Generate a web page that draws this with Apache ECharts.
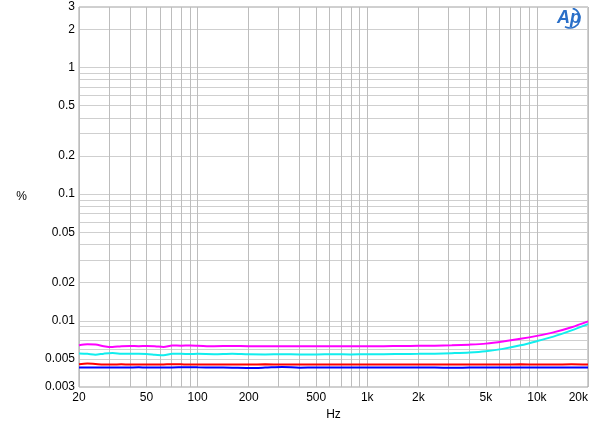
<!DOCTYPE html>
<html>
<head>
<meta charset="utf-8">
<script src="https://cdn.jsdelivr.net/npm/echarts@6/dist/echarts.min.js"></script>
<style>html,body{margin:0;padding:0;background:#fff}#c{width:600px;height:429px}</style>
</head>
<body>
<div id="c"></div>
<script>
const freqs = [20,22.4,25,28,31.5,35.5,40,45,50,56,63,71,80,90,100,125,160,200,250,315,400,500,630,800,1000,1250,1600,2000,2500,3150,4000,5000,6300,8000,10000,12500,16000,20000];
const magenta = [0.0064,0.00652,0.0065,0.0063,0.0062,0.0063,0.00632,0.0063,0.00632,0.0063,0.0062,0.00638,0.00636,0.00638,0.00636,0.0063,0.00632,0.0063,0.0063,0.0063,0.00628,0.00628,0.0063,0.00628,0.0063,0.0063,0.00632,0.00634,0.00636,0.0064,0.00648,0.0066,0.00685,0.0072,0.0076,0.0081,0.0089,0.0099];
const cyan = [0.00552,0.00548,0.0054,0.0055,0.00556,0.0055,0.00548,0.00548,0.00546,0.0054,0.00534,0.00548,0.00548,0.00546,0.00548,0.00545,0.0055,0.00543,0.00542,0.00544,0.00542,0.00542,0.00544,0.00542,0.00545,0.00545,0.00547,0.00548,0.0055,0.00555,0.00562,0.00575,0.006,0.0064,0.0069,0.0075,0.0084,0.0094];
const red = [0.00454,0.0046,0.00456,0.00452,0.00452,0.00453,0.00452,0.00452,0.00452,0.00451,0.00452,0.00454,0.00453,0.00452,0.00452,0.00452,0.00452,0.00452,0.00453,0.00452,0.00451,0.00452,0.00452,0.00451,0.00452,0.00452,0.00452,0.00452,0.00452,0.00452,0.00452,0.00452,0.00451,0.00453,0.00452,0.00451,0.00454,0.00452];
const blue = [0.00428,0.00428,0.00428,0.00428,0.00428,0.00427,0.00428,0.00429,0.00428,0.00428,0.00428,0.00428,0.00429,0.0043,0.00429,0.00428,0.00426,0.00424,0.00427,0.00432,0.00426,0.00428,0.00427,0.00428,0.00427,0.00428,0.00428,0.00428,0.00428,0.00425,0.00427,0.00428,0.00427,0.00427,0.00428,0.00427,0.00428,0.00428];

const xGrid = [20,30,40,50,60,70,80,90,100,200,300,400,500,600,700,800,900,1000,2000,3000,4000,5000,6000,7000,8000,9000,10000,20000];
const xLabels = [20,50,100,200,500,1000,2000,5000,10000,20000];
const yGrid = [0.003,0.004,0.005,0.006,0.007,0.008,0.009,0.01,0.02,0.03,0.04,0.05,0.06,0.07,0.08,0.09,0.1,0.2,0.3,0.4,0.5,0.6,0.7,0.8,0.9,1,2,3];
const yLabels = [0.003,0.005,0.01,0.02,0.05,0.1,0.2,0.5,1,2,3];

const font = 'Liberation Sans, Arial, sans-serif';
function mk(name, arr, color) {
  return {
    name: name, type: 'line', showSymbol: false, smooth: 0.3,
    data: freqs.map((f, i) => [f, arr[i]]),
    lineStyle: { color: color, width: 2 }, itemStyle: { color: color }
  };
}
const chart = echarts.init(document.getElementById('c'), null, { renderer: 'canvas' });
chart.setOption({
  animation: false,
  backgroundColor: '#ffffff',
  grid: { left: 79, right: 12, top: 7, bottom: 42, show: true, borderColor: '#a0a0a0', borderWidth: 1 },
  xAxis: {
    type: 'log', logBase: 10, min: 20, max: 20000,
    name: 'Hz', nameLocation: 'middle', nameGap: 22,
    nameTextStyle: { fontFamily: font, fontSize: 12, color: '#000' },
    axisLine: { show: false },
    axisTick: { show: false, customValues: xGrid },
    splitLine: { show: true, lineStyle: { color: '#bdbdbd', width: 1 } },
    axisLabel: {
      customValues: xLabels, margin: 5, fontFamily: font, fontSize: 12, color: '#000',
      alignMaxLabel: 'right',
      formatter: v => { const r = Math.round(v); return r >= 1000 ? (r / 1000) + 'k' : String(r); }
    }
  },
  yAxis: {
    type: 'log', logBase: 10, min: 0.003, max: 3,
    name: '%', nameLocation: 'middle', nameGap: 52, nameRotate: 0,
    nameTextStyle: { fontFamily: font, fontSize: 12, color: '#000' },
    axisLine: { show: false },
    axisTick: { show: false, customValues: yGrid },
    splitLine: { show: true, lineStyle: { color: '#cfcfcf', width: 1 } },
    axisLabel: {
      customValues: yLabels, margin: 4, fontFamily: font, fontSize: 12, color: '#000',
      formatter: v => String(parseFloat(v.toPrecision(3)))
    }
  },
  graphic: [
    { type: 'text', left: 557, top: 9, style: { text: 'Ap', fontFamily: font, fontSize: 18, fontStyle: 'italic', fontWeight: 'bold', fill: '#2a6fc8' } },
    { type: 'arc', shape: { cx: 570, cy: 18, r: 10, startAngle: -1.3, endAngle: 2.1 }, style: { stroke: '#2a6fc8', lineWidth: 1.6, fill: null } }
  ],
  series: [
    mk('magenta', magenta, '#ff00ff'),
    mk('cyan', cyan, '#11eeee'),
    mk('red', red, '#ff0000'),
    mk('blue', blue, '#0000ff')
  ]
});
</script>
</body>
</html>
